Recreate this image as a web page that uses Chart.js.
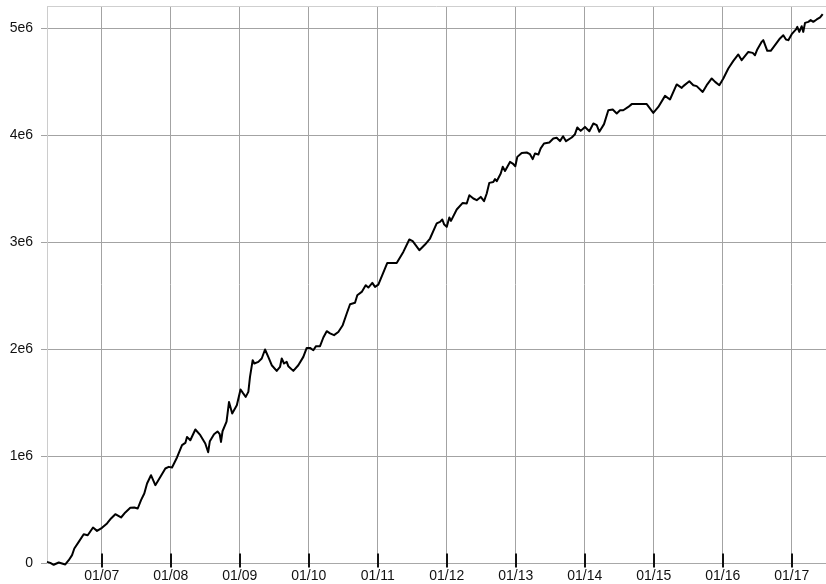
<!DOCTYPE html>
<html>
<head>
<meta charset="utf-8">
<script src="https://cdn.jsdelivr.net/npm/chart.js@4/dist/chart.umd.min.js"></script>
<style>
  html, body { margin: 0; padding: 0; background: #fff; }
  #wrap { width: 826px; height: 584px; position: relative; }
</style>
</head>
<body>
<div id="wrap"><canvas id="c" width="826" height="584"></canvas></div>
<script>
// Dates as decimal years
const dates = [
  2006.207, 2006.255, 2006.304, 2006.377, 2006.425, 2006.472, 2006.522, 2006.570, 2006.603, 2006.667,
  2006.739, 2006.797, 2006.874, 2006.932, 2007.004, 2007.077, 2007.135, 2007.197, 2007.280, 2007.342,
  2007.414, 2007.472, 2007.522, 2007.570, 2007.617, 2007.657, 2007.714, 2007.777, 2007.849, 2007.922,
  2007.971, 2008.019, 2008.091, 2008.164, 2008.212, 2008.236, 2008.284, 2008.357, 2008.429, 2008.501,
  2008.543, 2008.567, 2008.628, 2008.678, 2008.710, 2008.729, 2008.751, 2008.809, 2008.845, 2008.891,
  2008.958, 2009.012, 2009.048, 2009.087, 2009.125, 2009.149, 2009.188, 2009.212, 2009.270, 2009.319,
  2009.367, 2009.414, 2009.464, 2009.536, 2009.584, 2009.609, 2009.642, 2009.681, 2009.704, 2009.777,
  2009.849, 2009.922, 2009.971, 2010.019, 2010.067, 2010.106, 2010.164, 2010.212, 2010.261, 2010.309,
  2010.367, 2010.429, 2010.493, 2010.551, 2010.599, 2010.671, 2010.704, 2010.768, 2010.826, 2010.864,
  2010.922, 2010.961, 2011.009, 2011.072, 2011.139, 2011.275, 2011.371, 2011.458, 2011.507, 2011.603,
  2011.686, 2011.758, 2011.855, 2011.903, 2011.936, 2011.961, 2012.000, 2012.038, 2012.062, 2012.145,
  2012.232, 2012.290, 2012.328, 2012.386, 2012.435, 2012.493, 2012.541, 2012.580, 2012.617, 2012.675,
  2012.700, 2012.725, 2012.783, 2012.812, 2012.845, 2012.917, 2012.957, 2012.994, 2013.023, 2013.087,
  2013.159, 2013.207, 2013.246, 2013.280, 2013.328, 2013.362, 2013.410, 2013.487, 2013.545, 2013.594,
  2013.642, 2013.686, 2013.729, 2013.812, 2013.859, 2013.893, 2013.942, 2014.004, 2014.067, 2014.125,
  2014.174, 2014.212, 2014.280, 2014.342, 2014.406, 2014.464, 2014.512, 2014.559, 2014.632, 2014.681,
  2014.899, 2014.994, 2015.067, 2015.164, 2015.236, 2015.333, 2015.406, 2015.429, 2015.516, 2015.574,
  2015.623, 2015.710, 2015.768, 2015.841, 2015.890, 2015.951, 2016.009, 2016.081, 2016.154, 2016.226,
  2016.275, 2016.371, 2016.435, 2016.468, 2016.501, 2016.565, 2016.588, 2016.646, 2016.696, 2016.758,
  2016.830, 2016.878, 2016.917, 2016.951, 2017.000, 2017.062, 2017.081, 2017.110, 2017.145, 2017.168,
  2017.193, 2017.241, 2017.275, 2017.313, 2017.362, 2017.412, 2017.449
];

const values = [
  15000, 6000, -12000, 9000, 0, -9000, 31000, 78000, 140000, 202000,
  274000, 264000, 336000, 305000, 333000, 374000, 421000, 461000, 430000, 477000,
  520000, 523000, 514000, 592000, 654000, 748000, 825000, 732000, 809000, 888000,
  903000, 897000, 991000, 1106000, 1127000, 1183000, 1152000, 1252000, 1199000, 1121000,
  1040000, 1143000, 1208000, 1234000, 1208000, 1136000, 1236000, 1325000, 1510000, 1402000,
  1479000, 1626000, 1592000, 1557000, 1604000, 1744000, 1900000, 1869000, 1884000, 1916000,
  2000000, 1931000, 1853000, 1800000, 1837000, 1916000, 1869000, 1884000, 1844000, 1800000,
  1853000, 1931000, 2015000, 2015000, 1993000, 2031000, 2031000, 2112000, 2171000, 2150000,
  2134000, 2164000, 2227000, 2336000, 2423000, 2436000, 2507000, 2538000, 2601000, 2579000,
  2622000, 2585000, 2606000, 2704000, 2809000, 2809000, 2912000, 3028000, 3012000, 2928000,
  2981000, 3037000, 3178000, 3193000, 3215000, 3171000, 3146000, 3234000, 3202000, 3308000,
  3370000, 3364000, 3442000, 3411000, 3395000, 3426000, 3386000, 3458000, 3557000, 3566000,
  3592000, 3573000, 3645000, 3707000, 3669000, 3753000, 3738000, 3713000, 3800000, 3837000,
  3841000, 3825000, 3779000, 3832000, 3822000, 3879000, 3925000, 3935000, 3972000, 3979000,
  3947000, 3993000, 3947000, 3981000, 4012000, 4075000, 4043000, 4080000, 4040000, 4112000,
  4096000, 4034000, 4106000, 4236000, 4243000, 4206000, 4236000, 4236000, 4267000, 4293000,
  4293000, 4211000, 4267000, 4370000, 4336000, 4477000, 4445000, 4461000, 4507000, 4470000,
  4461000, 4407000, 4470000, 4533000, 4501000, 4470000, 4533000, 4626000, 4697000, 4757000,
  4704000, 4781000, 4772000, 4750000, 4804000, 4875000, 4891000, 4791000, 4791000, 4844000,
  4907000, 4937000, 4897000, 4891000, 4947000, 4991000, 5015000, 4968000, 5021000, 4968000,
  5052000, 5062000, 5078000, 5062000, 5084000, 5103000, 5134000
];

const xTickYears  = [2007, 2008, 2009, 2010, 2011, 2012, 2013, 2014, 2015, 2016, 2017];
const xTickLabels = ['01/07', '01/08', '01/09', '01/10', '01/11', '01/12', '01/13', '01/14', '01/15', '01/16', '01/17'];
const yTickValues = [0, 1000000, 2000000, 3000000, 4000000, 5000000];
const yTickLabels = ['0', '1e6', '2e6', '3e6', '4e6', '5e6'];

const xMin = 2006.207, xMax = 2017.497;
const yMin = 0, yMax = 5210000;

const n = Math.min(dates.length, values.length);
const points = [];
for (let i = 0; i < n; i++) points.push({ x: dates[i], y: values[i] });

const FONT = { family: "'Liberation Sans', Arial, Helvetica, sans-serif", size: 14 };
const GRID = '#a3a3a3';

const decor = {
  id: 'decor',
  beforeDatasetsDraw(chart) {
    const { ctx, chartArea } = chart;
    ctx.save();
    ctx.strokeStyle = '#cfcfcf';
    ctx.lineWidth = 1;
    ctx.beginPath();
    ctx.moveTo(chartArea.left, Math.round(chartArea.top) + 0.5);
    ctx.lineTo(chartArea.right, Math.round(chartArea.top) + 0.5);
    ctx.stroke();
    ctx.restore();
  },
  afterDatasetsDraw(chart) {
    const { ctx, chartArea, scales } = chart;
    const xs = scales.x;
    ctx.save();
    ctx.strokeStyle = '#111';
    ctx.lineWidth = 2;
    xTickYears.forEach(v => {
      const px = Math.round(xs.getPixelForValue(v));
      ctx.beginPath();
      ctx.moveTo(px, chartArea.bottom - 10);
      ctx.lineTo(px, chartArea.bottom + 4);
      ctx.stroke();
    });
    ctx.restore();
  }
};

new Chart(document.getElementById('c'), {
  type: 'line',
  data: {
    datasets: [{
      data: points,
      borderColor: '#000',
      borderWidth: 2,
      pointRadius: 0,
      tension: 0,
      borderJoinStyle: 'round',
      clip: 4
    }]
  },
  options: {
    responsive: false,
    animation: false,
    layout: { padding: { top: 6, right: 0, left: 0, bottom: 0 } },
    plugins: { legend: { display: false }, tooltip: { enabled: false } },
    scales: {
      x: {
        type: 'linear',
        min: xMin,
        max: xMax,
        afterBuildTicks: s => { s.ticks = xTickYears.map(v => ({ value: v })); },
        afterFit: s => { s.height = 20.5; s.paddingLeft = 0; s.paddingRight = 0; },
        ticks: {
          autoSkip: false,
          maxRotation: 0,
          color: '#111',
          font: FONT,
          padding: 4,
          callback: (v) => { const i = xTickYears.indexOf(v); return i >= 0 ? xTickLabels[i] : ''; }
        },
        grid: { color: GRID, lineWidth: 1, drawTicks: false },
        border: { color: '#a8a8a8', width: 1 }
      },
      y: {
        type: 'linear',
        min: yMin,
        max: yMax,
        afterBuildTicks: s => { s.ticks = yTickValues.map(v => ({ value: v })); },
        afterFit: s => { s.width = 47; s.paddingTop = 0; s.paddingBottom = 0; },
        ticks: {
          color: '#111',
          font: FONT,
          padding: 8,
          callback: (v) => { const i = yTickValues.indexOf(v); return i >= 0 ? yTickLabels[i] : ''; }
        },
        grid: { color: GRID, lineWidth: 1, drawTicks: true, tickLength: 6 },
        border: { color: '#cccccc', width: 1 }
      }
    }
  },
  plugins: [decor]
});
</script>
</body>
</html>
